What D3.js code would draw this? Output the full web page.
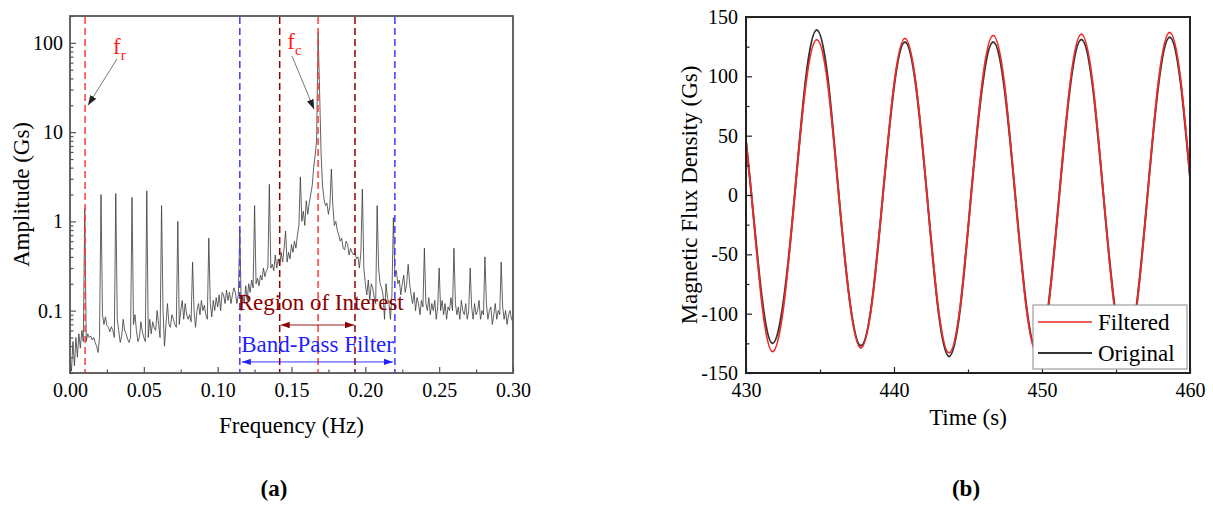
<!DOCTYPE html>
<html><head><meta charset="utf-8">
<script src="https://cdn.jsdelivr.net/npm/d3@7"></script>
<style>
body{margin:0;background:#fff}
svg{display:block}
text{font-family:"Liberation Serif","Times New Roman",serif;fill:#000}
</style>
</head><body>
<svg id="c" width="1213" height="510"></svg>
<script>
// ---------- Panel (a): amplitude spectrum ----------
const freqStep = 0.001; // Hz per bin
const amplitude = [
0.03,0.021,0.045,0.024,0.05,0.03,0.055,0.038,0.06,0.045,
1.4,0.045,0.055,0.05,0.052,0.047,0.05,0.044,0.04,0.034,
0.05,2.0,0.09,0.07,0.085,0.068,0.065,0.058,0.066,0.06,
0.05,2.05,0.08,0.06,0.044,0.052,0.08,0.06,0.055,0.048,
0.044,0.05,1.85,0.07,0.09,0.06,0.045,0.05,0.075,0.058,
0.05,0.045,2.2,0.05,0.08,0.055,0.075,0.064,0.06,0.1,
0.07,0.05,1.5,0.1,0.04,0.07,0.12,0.07,0.065,0.09,
0.08,0.07,0.065,1.0,0.07,0.1,0.13,0.08,0.12,0.09,
0.08,0.09,0.075,0.35,0.1,0.065,0.1,0.12,0.09,0.13,
0.1,0.115,0.09,0.08,0.65,0.12,0.085,0.13,0.1,0.14,
0.11,0.15,0.1,0.16,0.15,0.12,0.17,0.13,0.16,0.12,
0.15,0.18,0.16,0.12,0.15,0.8,0.1,0.15,0.12,0.19,
0.13,0.2,0.16,0.22,0.18,1.5,0.2,0.23,0.19,0.25,
0.22,0.3,0.24,0.28,0.3,2.6,0.3,0.33,0.28,0.42,
0.3,0.38,0.32,0.45,0.35,0.5,0.78,0.35,0.45,0.38,
0.55,0.45,0.6,0.5,0.7,0.9,3.15,1.0,1.3,0.9,
1.7,1.2,1.6,2.0,2.5,4.0,5.5,8,130,30,
6,2.5,1.8,1.5,1.6,1.2,1.5,3.85,1.5,0.9,
1.0,0.8,0.7,0.6,0.65,0.5,0.48,0.6,0.55,0.42,
0.5,0.45,0.42,0.45,0.38,0.4,0.3,0.45,2.3,0.3,
0.2,0.15,0.22,0.13,0.2,0.18,0.14,0.12,1.5,0.3,
0.2,0.18,0.15,0.08,0.2,0.14,0.12,0.08,0.15,1.1,
0.25,0.28,0.2,0.22,0.15,0.2,0.25,0.16,0.2,0.33,
0.2,0.15,0.12,0.16,0.1,0.14,0.12,0.09,0.13,0.11,
0.5,0.12,0.1,0.14,0.09,0.12,0.1,0.13,0.08,0.11,
0.3,0.1,0.13,0.09,0.12,0.08,0.11,0.1,0.14,0.1,
0.5,0.12,0.09,0.11,0.08,0.13,0.1,0.09,0.12,0.08,
0.1,0.3,0.11,0.08,0.12,0.09,0.1,0.13,0.08,0.1,
0.09,0.4,0.12,0.08,0.1,0.11,0.07,0.09,0.12,0.08,
0.1,0.09,0.35,0.11,0.08,0.1,0.07,0.09,0.1,0.08,0.075
];
const freqTicks = [0, 0.05, 0.10, 0.15, 0.20, 0.25, 0.30];
const freqTickLabels = ["0.00","0.05","0.10","0.15","0.20","0.25","0.30"];
const freqMinorTicks = [0.025, 0.075, 0.125, 0.175, 0.225, 0.275];
const ampTicks = [0.1, 1, 10, 100];
const ampTickLabels = ["0.1","1","10","100"];
const peakFreqs = [0.0102, 0.168];          // f_r, f_c
const roiFreqs = [0.142, 0.193];            // region of interest
const bandFreqs = [0.115, 0.22];            // band-pass filter

// ---------- Panel (b): time series ----------
const timeS = [429.62,430.37,431.09,431.80,432.55,433.29,434.04,434.78,435.53,436.27,
437.02,437.76,438.51,439.25,440.00,440.74,441.49,442.23,442.98,443.72,
444.47,445.21,445.96,446.70,447.45,448.19,448.94,449.68,450.43,451.17,
451.92,452.66,453.41,454.15,454.90,455.64,456.39,457.13,457.88,458.62,
459.37,460.11,460.86];
const originalGs = [92,0,-88,-125,-88,0,98,139,98,0,
-90,-127,-90,0,91,129,91,0,-96,-136,
-96,0,91,129,91,0,-93,-132,-93,0,
93,131,93,0,-93,-131,-93,0,94,133,
94,0,-92];
const filteredGs = [90,0,-93,-132,-93,0,93,131,93,0,
-91,-129,-91,0,93,132,93,0,-94,-133,
-94,0,95,134.5,95,0,-95,-134,-95,0,
96,135.5,96,0,-95,-134,-95,0,97,137,
97,0,-95];
const timeTicks = [430, 440, 450, 460];
const timeMinorTicks = [435, 445, 455];
const fluxTicks = [-150,-100,-50,0,50,100,150];
const fluxMinorTicks = [-125,-75,-25,25,75,125];
const seriesNames = ["Filtered","Original"];
const seriesColors = ["#ee2a2a","#333333"];

const svg = d3.select("#c");
const defs = svg.append("defs");
function arrowMarker(id, color, size){
  defs.append("marker").attr("id",id).attr("viewBox","0 0 10 10")
    .attr("refX",10).attr("refY",5).attr("markerWidth",size).attr("markerHeight",size)
    .attr("orient","auto-start-reverse").attr("markerUnits","userSpaceOnUse")
    .append("path").attr("d","M0,1.5 L10,5 L0,8.5 Z").attr("fill",color);
}
arrowMarker("arrGray","#222",10);
arrowMarker("arrRed","#8b0000",9);
arrowMarker("arrBlue","#1f1fff",9);

// ===== Panel (a) =====
const A = {l:70, r:513, t:16, b:373};
const x1 = d3.scaleLinear().domain([0,0.30]).range([A.l,A.r]);
const y1 = d3.scaleLog().domain([0.02,200]).range([A.b,A.t]);
const ga = svg.append("g");
defs.append("clipPath").attr("id","clipA").append("rect")
  .attr("x",A.l).attr("y",A.t).attr("width",A.r-A.l).attr("height",A.b-A.t);

const specData = amplitude.map((v,i)=>({f:i*freqStep, a:v}));
ga.append("path").datum(specData).attr("clip-path","url(#clipA)")
  .attr("fill","none").attr("stroke","#3a3a3a").attr("stroke-width",0.8)
  .attr("d", d3.line().x(d=>x1(d.f)).y(d=>y1(d.a)));

function vline(g, f, color){
  g.append("line").attr("x1",x1(f)).attr("x2",x1(f)).attr("y1",A.t+1).attr("y2",A.b)
   .attr("stroke",color).attr("stroke-width",1.5).attr("stroke-dasharray","7,4");
}
peakFreqs.forEach(f=>vline(ga,f,"#ff3b3b"));
roiFreqs.forEach(f=>vline(ga,f,"#8b0000"));
bandFreqs.forEach(f=>vline(ga,f,"#3b3bff"));

// axes (a)
const axColA = "#555";
const xAxA = ga.append("g").attr("transform",`translate(0,${A.b})`)
  .call(d3.axisBottom(x1).tickValues(freqTicks).tickFormat((d,i)=>freqTickLabels[i]).tickSize(-6).tickPadding(10));
const xAxAm = ga.append("g").attr("transform",`translate(0,${A.b})`)
  .call(d3.axisBottom(x1).tickValues(freqMinorTicks).tickFormat("").tickSize(-3.5));
const minorLog = [];
[0.01,0.1,1,10,100].forEach(dec=>{for(let k=2;k<=9;k++){const v=dec*k; if(v>=0.02&&v<=200) minorLog.push(v);}});
const yAxA = ga.append("g").attr("transform",`translate(${A.l},0)`)
  .call(d3.axisLeft(y1).tickValues(ampTicks).tickFormat((d,i)=>ampTickLabels[i]).tickSize(-6).tickPadding(7));
const yAxAm = ga.append("g").attr("transform",`translate(${A.l},0)`)
  .call(d3.axisLeft(y1).tickValues(minorLog).tickFormat("").tickSize(-3.5));
[xAxA,xAxAm,yAxA,yAxAm].forEach(g=>{
  g.attr("font-family",null);
  g.select(".domain").remove();
  g.selectAll(".tick line").attr("stroke",axColA).attr("stroke-width",1.2);
  g.selectAll("text").attr("font-size",20).attr("font-family","Liberation Serif").attr("fill","#000");
});
ga.append("rect").attr("x",A.l).attr("y",A.t).attr("width",A.r-A.l).attr("height",A.b-A.t)
  .attr("fill","none").attr("stroke",axColA).attr("stroke-width",1.8);

ga.append("text").attr("x",(A.l+A.r)/2).attr("y",433).attr("text-anchor","middle")
  .attr("font-size",23).text("Frequency (Hz)");
ga.append("text").attr("transform",`translate(29,${(A.t+A.b)/2}) rotate(-90)`).attr("text-anchor","middle")
  .attr("font-size",23).text("Amplitude (Gs)");

// annotations f_r, f_c
function fLabel(fx, val, sub){
  const t = ga.append("text").attr("x",x1(fx)).attr("y",y1(val)).attr("font-size",23).style("fill","#ff2020");
  t.append("tspan").style("fill","#ff2020").text("f");
  t.append("tspan").style("fill","#ff2020").attr("font-size",15).attr("dy",6).text(sub);
}
fLabel(0.0291, 75, "r");
fLabel(0.1472, 85, "c");
ga.append("line").attr("x1",x1(0.0318)).attr("y1",y1(66)).attr("x2",x1(0.0122)).attr("y2",y1(20))
  .attr("stroke","#555").attr("stroke-width",0.8).attr("marker-end","url(#arrGray)");
ga.append("line").attr("x1",x1(0.1504)).attr("y1",y1(71)).attr("x2",x1(0.1653)).attr("y2",y1(18))
  .attr("stroke","#555").attr("stroke-width",0.8).attr("marker-end","url(#arrGray)");

// region of interest & band-pass
ga.append("text").attr("x",x1(0.1698)).attr("y",y1(0.101)).attr("text-anchor","middle")
  .attr("font-size",23).style("fill","#8b0000").text("Region of Interest");
ga.append("line").attr("x1",x1(roiFreqs[0])+1).attr("x2",x1(roiFreqs[1])-1).attr("y1",y1(0.069)).attr("y2",y1(0.069))
  .attr("stroke","#8b0000").attr("stroke-width",0.9)
  .attr("marker-start","url(#arrRed)").attr("marker-end","url(#arrRed)");
ga.append("text").attr("x",x1(0.1677)).attr("y",y1(0.0345)).attr("text-anchor","middle")
  .attr("font-size",23).style("fill","#1f1fff").text("Band-Pass Filter");
ga.append("line").attr("x1",x1(bandFreqs[0])+2).attr("x2",x1(bandFreqs[1])-2).attr("y1",y1(0.0266)).attr("y2",y1(0.0266))
  .attr("stroke","#1f1fff").attr("stroke-width",0.9)
  .attr("marker-start","url(#arrBlue)").attr("marker-end","url(#arrBlue)");

// ===== Panel (b) =====
const B = {l:746, r:1190, t:17, b:373};
const x2 = d3.scaleLinear().domain([430,460]).range([B.l,B.r]);
const y2 = d3.scaleLinear().domain([-150,150]).range([B.b,B.t]);
const gb = svg.append("g");
defs.append("clipPath").attr("id","clipB").append("rect")
  .attr("x",B.l).attr("y",B.t).attr("width",B.r-B.l).attr("height",B.b-B.t);
const lineB = d3.line().curve(d3.curveNatural).x(d=>x2(d[0])).y(d=>y2(d[1]));
gb.append("path").datum(timeS.map((t,i)=>[t,originalGs[i]])).attr("clip-path","url(#clipB)")
  .attr("fill","none").attr("stroke",seriesColors[1]).attr("stroke-width",2).attr("d",lineB);
gb.append("path").datum(timeS.map((t,i)=>[t,filteredGs[i]])).attr("clip-path","url(#clipB)")
  .attr("fill","none").attr("stroke",seriesColors[0]).attr("stroke-width",1.8).attr("d",lineB);

const axColB = "#222";
const xAxB = gb.append("g").attr("transform",`translate(0,${B.b})`)
  .call(d3.axisBottom(x2).tickValues(timeTicks).tickFormat(d3.format("d")).tickSize(-6).tickPadding(10));
const xAxBm = gb.append("g").attr("transform",`translate(0,${B.b})`)
  .call(d3.axisBottom(x2).tickValues(timeMinorTicks).tickFormat("").tickSize(-3.5));
const yAxB = gb.append("g").attr("transform",`translate(${B.l},0)`)
  .call(d3.axisLeft(y2).tickValues(fluxTicks).tickFormat(d3.format("d")).tickSize(-6).tickPadding(8));
const yAxBm = gb.append("g").attr("transform",`translate(${B.l},0)`)
  .call(d3.axisLeft(y2).tickValues(fluxMinorTicks).tickFormat("").tickSize(-3.5));
[xAxB,xAxBm,yAxB,yAxBm].forEach(g=>{
  g.attr("font-family",null);
  g.select(".domain").remove();
  g.selectAll(".tick line").attr("stroke",axColB).attr("stroke-width",1.2);
  g.selectAll("text").attr("font-size",20).attr("font-family","Liberation Serif").attr("fill","#000");
});
yAxB.selectAll("text").text(d=>d<0?"-"+Math.abs(d):d);
gb.append("rect").attr("x",B.l).attr("y",B.t).attr("width",B.r-B.l).attr("height",B.b-B.t)
  .attr("fill","none").attr("stroke",axColB).attr("stroke-width",2);

gb.append("text").attr("x",(B.l+B.r)/2).attr("y",425).attr("text-anchor","middle")
  .attr("font-size",23).text("Time (s)");
gb.append("text").attr("transform",`translate(697,${(B.t+B.b)/2}) rotate(-90)`).attr("text-anchor","middle")
  .attr("font-size",23).text("Magnetic Flux Density (Gs)");

// legend
const lg = gb.append("g").attr("transform","translate(1033,305)");
lg.append("rect").attr("width",154).attr("height",64).attr("fill","#fff").attr("stroke","#8a8a8a").attr("stroke-width",1);
seriesNames.forEach((n,i)=>{
  const yy = 17 + i*31;
  lg.append("line").attr("x1",5).attr("x2",59).attr("y1",yy).attr("y2",yy)
    .attr("stroke",seriesColors[i]).attr("stroke-width",i===0?1.5:2);
  lg.append("text").attr("x",65).attr("y",yy+8).attr("font-size",23).text(n);
});

// captions
svg.append("text").attr("x",274).attr("y",496).attr("text-anchor","middle").attr("font-size",23)
  .attr("font-weight","bold").text("(a)");
svg.append("text").attr("x",966).attr("y",496).attr("text-anchor","middle").attr("font-size",23)
  .attr("font-weight","bold").text("(b)");
</script>
</body></html>
